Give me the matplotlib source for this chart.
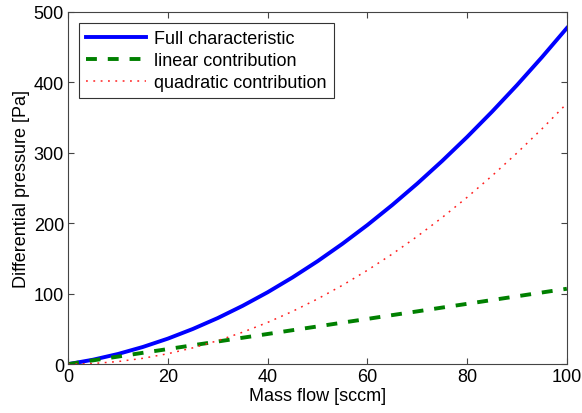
import matplotlib
matplotlib.use("Agg")
import matplotlib.pyplot as plt

plt.rcParams['font.family'] = ['Liberation Sans', 'DejaVu Sans']

# Mass flow [sccm]
mass_flow = [0, 5, 10, 15, 20, 25, 30, 35, 40, 45, 50,
             55, 60, 65, 70, 75, 80, 85, 90, 95, 100]
# linear contribution [Pa]
linear = [0, 5.4, 10.7, 16.1, 21.4, 26.8, 32.1, 37.5, 42.8, 48.2, 53.5,
          58.9, 64.2, 69.6, 74.9, 80.3, 85.6, 91.0, 96.3, 101.7, 107.0]
# quadratic contribution [Pa]
quadratic = [0, 0.9, 3.7, 8.3, 14.8, 23.1, 33.3, 45.3, 59.2, 74.9, 92.5,
             111.9, 133.2, 156.3, 181.3, 208.1, 236.8, 267.3, 299.7, 333.9, 370.0]
# full characteristic [Pa]
full = [0, 6.3, 14.4, 24.4, 36.2, 49.9, 65.4, 82.8, 102.0, 123.1, 146.0,
        170.8, 197.4, 225.9, 256.2, 288.4, 322.4, 358.3, 396.0, 435.6, 477.0]

fig = plt.figure(figsize=(5.82, 4.14), dpi=100)
ax = fig.add_axes([0.117, 0.118, 0.857, 0.851])

ax.plot(mass_flow, full, color='#0000ff', lw=2.8, label='Full characteristic')
ax.plot(mass_flow, linear, color='#008000', lw=2.8, ls=(0, (2.8, 2.8)),
        label='linear contribution')
ax.plot(mass_flow, quadratic, color='#ff2020', lw=1.1, ls=(0, (1.2, 3.6)),
        label='quadratic contribution')

ax.set_xlim(0, 100)
ax.set_ylim(0, 500)
ax.set_xticks([0, 20, 40, 60, 80, 100])
ax.set_yticks([0, 100, 200, 300, 400, 500])
ax.tick_params(direction='in', top=True, right=True, labelsize=13, length=4,
               color='#444444', pad=3)
for s in ax.spines.values():
    s.set_color('#444444')
    s.set_linewidth(0.8)

ax.set_xlabel('Mass flow [sccm]', fontsize=13, labelpad=1)
ax.set_ylabel('Differential pressure [Pa]', fontsize=13, labelpad=3)

leg = ax.legend(loc='upper left', fontsize=13, fancybox=False, framealpha=1,
                edgecolor='#333333', handlelength=3.3, handletextpad=0.45,
                borderpad=0.4, labelspacing=0.28, borderaxespad=0.6)
leg.get_frame().set_linewidth(0.8)

fig.savefig('out.png', dpi=100)
